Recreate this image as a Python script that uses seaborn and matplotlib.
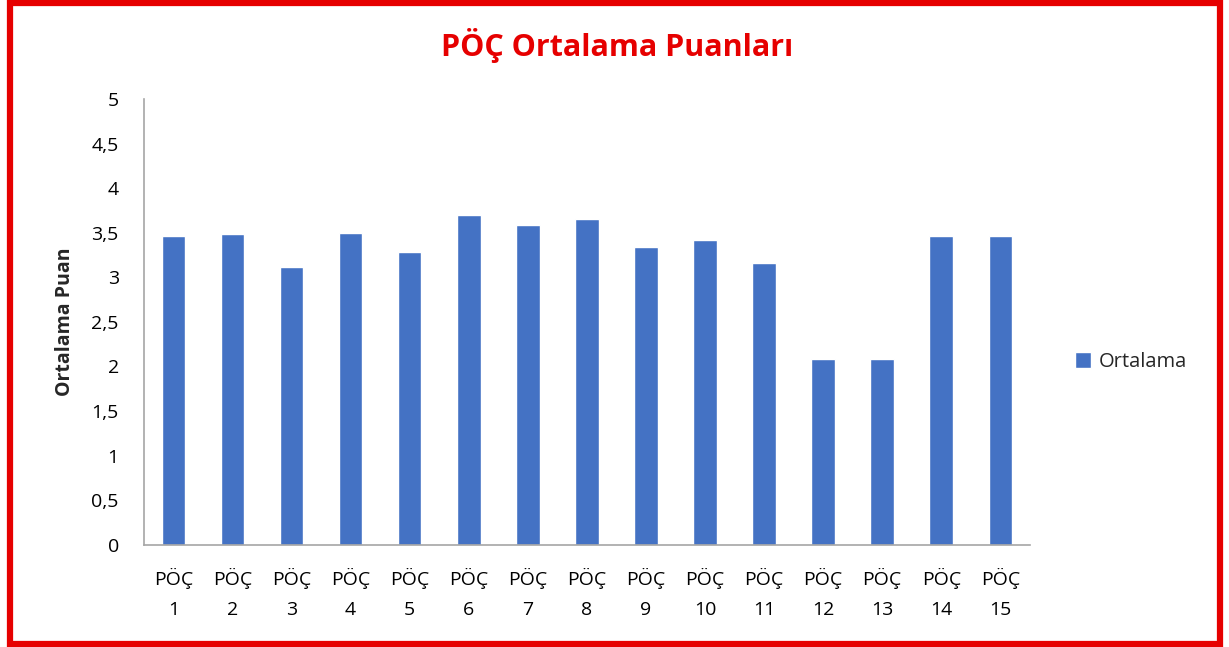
import matplotlib
matplotlib.use("Agg")
import matplotlib.pyplot as plt
import seaborn as sns
import pandas as pd
from matplotlib.patches import Rectangle

# data
labels = ["PÖÇ\n%d" % i for i in range(1, 16)]
ortalama = [3.46, 3.49, 3.11, 3.50, 3.28, 3.70, 3.59, 3.65, 3.34, 3.42, 3.16, 2.08, 2.08, 3.46, 3.46]
yticks = [0, 0.5, 1, 1.5, 2, 2.5, 3, 3.5, 4, 4.5, 5]

df = pd.DataFrame({"poc": labels, "Ortalama": ortalama})

sns.set_style("white")
plt.rcParams["font.family"] = ["Open Sans", "DejaVu Sans"]

fig = plt.figure(figsize=(12.29, 6.47), dpi=100)
ax = fig.add_axes([0.117, 0.158, 0.721, 0.689])

sns.barplot(data=df, x="poc", y="Ortalama", color="#4472C4", width=0.4,
            saturation=1, label="Ortalama", ax=ax)

ax.set_ylim(0, 5)
ax.set_xlim(-0.5, 14.5)
ax.set_yticks(yticks)
ax.set_yticklabels([str(t).replace(".", ",").replace(",0", "") if t != 0 else "0" for t in yticks])
ax.tick_params(axis="both", labelsize=14, length=0, colors="black")
ax.tick_params(axis="x", pad=17)
ax.tick_params(axis="y", pad=18)
for lbl in ax.get_xticklabels():
    lbl.set_linespacing(1.85)

ax.set_xlabel("")
ax.set_ylabel("Ortalama Puan", fontsize=14, fontweight="bold", labelpad=12)

for s in ["top", "right"]:
    ax.spines[s].set_visible(False)
for s in ["left", "bottom"]:
    ax.spines[s].set_color("#a6a6a6")
    ax.spines[s].set_linewidth(1.2)

fig.text(0.502, 0.93, "PÖÇ Ortalama Puanları", color="#e60000", fontsize=22,
         fontweight="bold", ha="center", va="center")

ax.legend(loc="center left", bbox_to_anchor=(1.03, 0.41), frameon=False,
          fontsize=14.5, handlelength=0.8, handleheight=0.8, handletextpad=0.4)

# red frame around the whole chart
fig.patches.append(Rectangle((0.0085, 0.004), 0.984, 0.992, transform=fig.transFigure,
                             fill=False, edgecolor="#e60000", linewidth=4.5))

fig.savefig("out.png", dpi=100)
